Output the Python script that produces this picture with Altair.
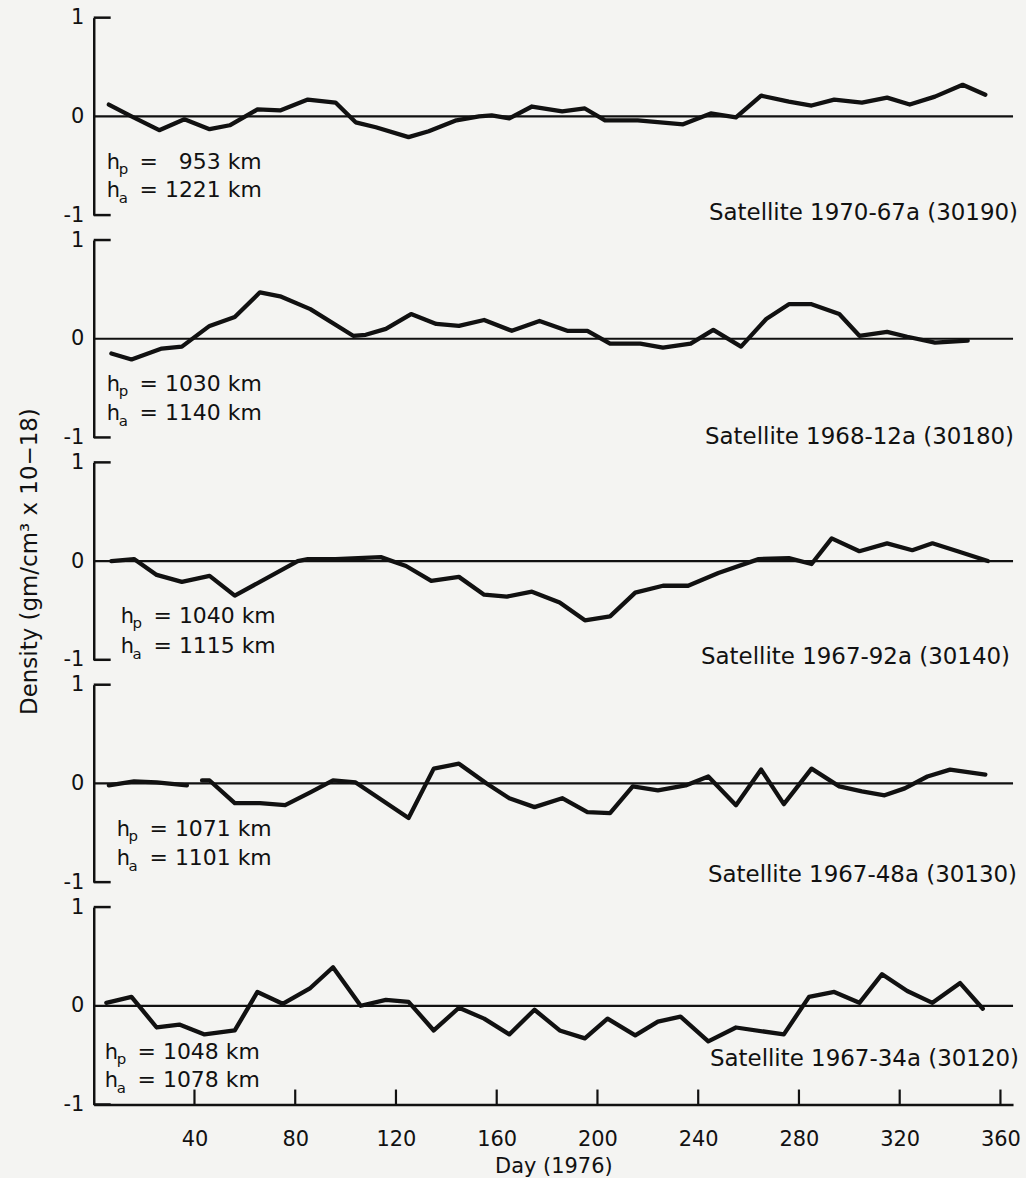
import altair as alt
import pandas as pd

# ---------------- data ----------------
satellites = [
    "Satellite 1970-67a (30190)",
    "Satellite 1968-12a (30180)",
    "Satellite 1967-92a (30140)",
    "Satellite 1967-48a (30130)",
    "Satellite 1967-34a (30120)",
]
hp_values = ["=\u00a0\u00a0\u00a0953 km", "= 1030 km", "= 1040 km", "= 1071 km", "= 1048 km"]
ha_values = ["= 1221 km", "= 1140 km", "= 1115 km", "= 1101 km", "= 1078 km"]

p1_days = [6, 15, 26, 36, 46, 54, 65, 74, 85, 96, 104, 112, 125, 133, 144, 153, 158, 165, 174, 186,
           195, 203, 216, 234, 245, 255, 265, 276, 285, 294, 305, 315, 324, 334, 345, 354]
p1_vals = [0.12, 0.0, -0.14, -0.03, -0.13, -0.09, 0.07, 0.06, 0.17, 0.14, -0.06, -0.11, -0.21, -0.15,
           -0.04, 0.0, 0.01, -0.02, 0.10, 0.05, 0.08, -0.04, -0.04, -0.08, 0.03, -0.01, 0.21, 0.15,
           0.11, 0.17, 0.14, 0.19, 0.12, 0.20, 0.32, 0.22]

p2_days = [7, 15, 27, 35, 46, 56, 66, 74, 86, 103, 108, 116, 126, 136, 145, 155, 166, 177, 188, 196,
           205, 217, 226, 237, 246, 257, 267, 276, 285, 296, 304, 315, 323, 334, 347]
p2_vals = [-0.15, -0.21, -0.10, -0.08, 0.13, 0.22, 0.47, 0.43, 0.30, 0.03, 0.04, 0.10, 0.25, 0.15,
           0.13, 0.19, 0.08, 0.18, 0.08, 0.08, -0.05, -0.05, -0.09, -0.05, 0.09, -0.08, 0.20, 0.35,
           0.35, 0.25, 0.03, 0.07, 0.02, -0.04, -0.02]

p3_days = [7, 16, 25, 35, 46, 56, 81, 85, 96, 114, 124, 134, 145, 155, 164, 174, 185, 195, 205,
           215, 226, 236, 248, 264, 276, 285, 293, 304, 315, 325, 333, 343, 355]
p3_vals = [0.0, 0.02, -0.14, -0.21, -0.15, -0.35, 0.0, 0.02, 0.02, 0.04, -0.05, -0.20, -0.16, -0.34,
           -0.36, -0.31, -0.42, -0.60, -0.56, -0.32, -0.25, -0.25, -0.12, 0.02, 0.03, -0.03, 0.23,
           0.10, 0.18, 0.11, 0.18, 0.10, 0.0]

p4a_days = [6, 16, 25, 37]
p4a_vals = [-0.02, 0.02, 0.01, -0.02]
p4b_days = [43, 46, 56, 66, 76, 86, 95, 104, 125, 135, 145, 156, 165, 175, 186, 196, 205, 214, 224,
            235, 244, 255, 265, 274, 285, 296, 305, 314, 322, 331, 340, 354]
p4b_vals = [0.03, 0.03, -0.20, -0.20, -0.22, -0.09, 0.03, 0.01, -0.35, 0.15, 0.20, 0.0, -0.15, -0.24,
            -0.15, -0.29, -0.30, -0.03, -0.07, -0.02, 0.07, -0.22, 0.14, -0.21, 0.15, -0.03, -0.08,
            -0.12, -0.05, 0.07, 0.14, 0.09]

p5_days = [5, 15, 25, 34, 44, 56, 65, 75, 86, 95, 106, 116, 125, 135, 145, 155, 165, 175, 185, 195,
           204, 215, 224, 233, 244, 255, 274, 284, 294, 304, 313, 323, 333, 344, 353]
p5_vals = [0.03, 0.09, -0.22, -0.19, -0.29, -0.25, 0.14, 0.02, 0.18, 0.39, 0.0, 0.06, 0.04, -0.25,
           -0.02, -0.13, -0.29, -0.04, -0.25, -0.33, -0.13, -0.30, -0.16, -0.11, -0.36, -0.22, -0.29,
           0.09, 0.14, 0.03, 0.32, 0.15, 0.03, 0.23, -0.03]

x_ticks = [40, 80, 120, 160, 200, 240, 280, 320, 360]
y_ticks = [-1, 0, 1]
x_domain = [0, 365]
y_domain = [-1, 1]


def frame(segments):
    rows = []
    for s, (days, vals) in enumerate(segments):
        for d, v in zip(days, vals):
            rows.append({"day": d, "val": v, "seg": s})
    return pd.DataFrame(rows)


panel_data = [
    frame([(p1_days, p1_vals)]),
    frame([(p2_days, p2_vals)]),
    frame([(p3_days, p3_vals)]),
    frame([(p4a_days, p4a_vals), (p4b_days, p4b_vals)]),
    frame([(p5_days, p5_vals)]),
]

# ---------------- layout / style ----------------
W, H = 922, 198
FONT = "DejaVu Sans"
INK = "#111111"
# annotation placement per panel (pixels inside each panel)
layout = [
    dict(x0=13, hp=152, ha=180, sx=927, sy=203),
    dict(x0=13, hp=151, ha=181, sx=923, sy=205),
    dict(x0=27, hp=161, ha=191, sx=919, sy=202),
    dict(x0=23, hp=152, ha=181, sx=926, sy=198),
    dict(x0=11, hp=152, ha=180, sx=928, sy=159),
]


def text_layer(t, x, y, size, align="left"):
    return alt.Chart(pd.DataFrame({"t": [t]})).mark_text(
        align=align, baseline="alphabetic", fontSize=size, font=FONT, color=INK
    ).encode(text="t:N", x=alt.value(x), y=alt.value(y))


def panel(i):
    bottom = i == 4
    if bottom:
        x_axis = alt.Axis(values=x_ticks, ticks=False, grid=False, labelPadding=24,
                          domainWidth=2.5, domainColor=INK, labelColor=INK, labelFontSize=21,
                          labelFont=FONT, title="Day (1976)", titleFont=FONT, titleFontSize=21,
                          titleFontWeight="normal", titleColor=INK, titlePadding=6)
    else:
        x_axis = None
    x_enc = alt.X("day:Q", scale=alt.Scale(domain=x_domain, nice=False, zero=False), axis=x_axis)
    y_axis_kw = dict(values=y_ticks, ticks=False, grid=False, domainWidth=2.5,
                     domainColor=INK, labelColor=INK, labelFontSize=21, labelFont=FONT,
                     labelPadding=10,
                     labelExpr="datum.value < 0 ? '-' + abs(datum.value) : '' + datum.value")
    if i == 2:
        y_axis = alt.Axis(title="Density (gm/cm\u00b3 x 10\u221218)", titleFont=FONT,
                          titleFontSize=23, titleFontWeight="normal", titleColor=INK,
                          titlePadding=21, **y_axis_kw)
    else:
        y_axis = alt.Axis(title="", **y_axis_kw)
    y_enc = alt.Y("val:Q", scale=alt.Scale(domain=y_domain, nice=False), axis=y_axis)

    line = alt.Chart(panel_data[i]).mark_line(
        color=INK, strokeWidth=4.3, strokeJoin="round", strokeCap="round"
    ).encode(x=x_enc, y=y_enc, detail="seg:N")
    zero = alt.Chart(pd.DataFrame({"val": [0]})).mark_rule(color=INK, strokeWidth=2.2).encode(
        y=y_enc, x=alt.value(0), x2=alt.value(W))
    brackets = alt.Chart(pd.DataFrame({"val": [1, -1]})).mark_rule(color=INK, strokeWidth=2.5).encode(
        y=y_enc, x=alt.value(0), x2=alt.value(17))

    L = layout[i]
    x0 = L["x0"]
    layers = [zero, brackets, line,
              text_layer("h", x0, L["hp"], 21),
              text_layer("p", x0 + 12, L["hp"] + 5, 15),
              text_layer(hp_values[i], x0 + 33, L["hp"], 22),
              text_layer("h", x0, L["ha"], 21),
              text_layer("a", x0 + 12, L["ha"] + 6, 15),
              text_layer(ha_values[i], x0 + 33, L["ha"], 22),
              text_layer(satellites[i], L["sx"], L["sy"], 23, align="right")]
    if bottom:
        xt = alt.Chart(pd.DataFrame({"day": x_ticks})).mark_rule(color=INK, strokeWidth=2.2).encode(
            x=x_enc, y=alt.value(H), y2=alt.value(H - 15))
        layers.append(xt)
    return alt.layer(*layers).properties(
        width=W, height=H, view=alt.ViewBackground(stroke="transparent", strokeWidth=0))


chart = alt.vconcat(*[panel(i) for i in range(5)], spacing=25, bounds="flush").properties(
    padding={"left": 19, "top": 5, "right": 5, "bottom": 0},
    background="#f4f4f2",
).configure(font=FONT).configure_view(stroke="transparent", strokeWidth=0)

chart.save("out.html", embed_options={"renderer": "svg", "actions": False})
